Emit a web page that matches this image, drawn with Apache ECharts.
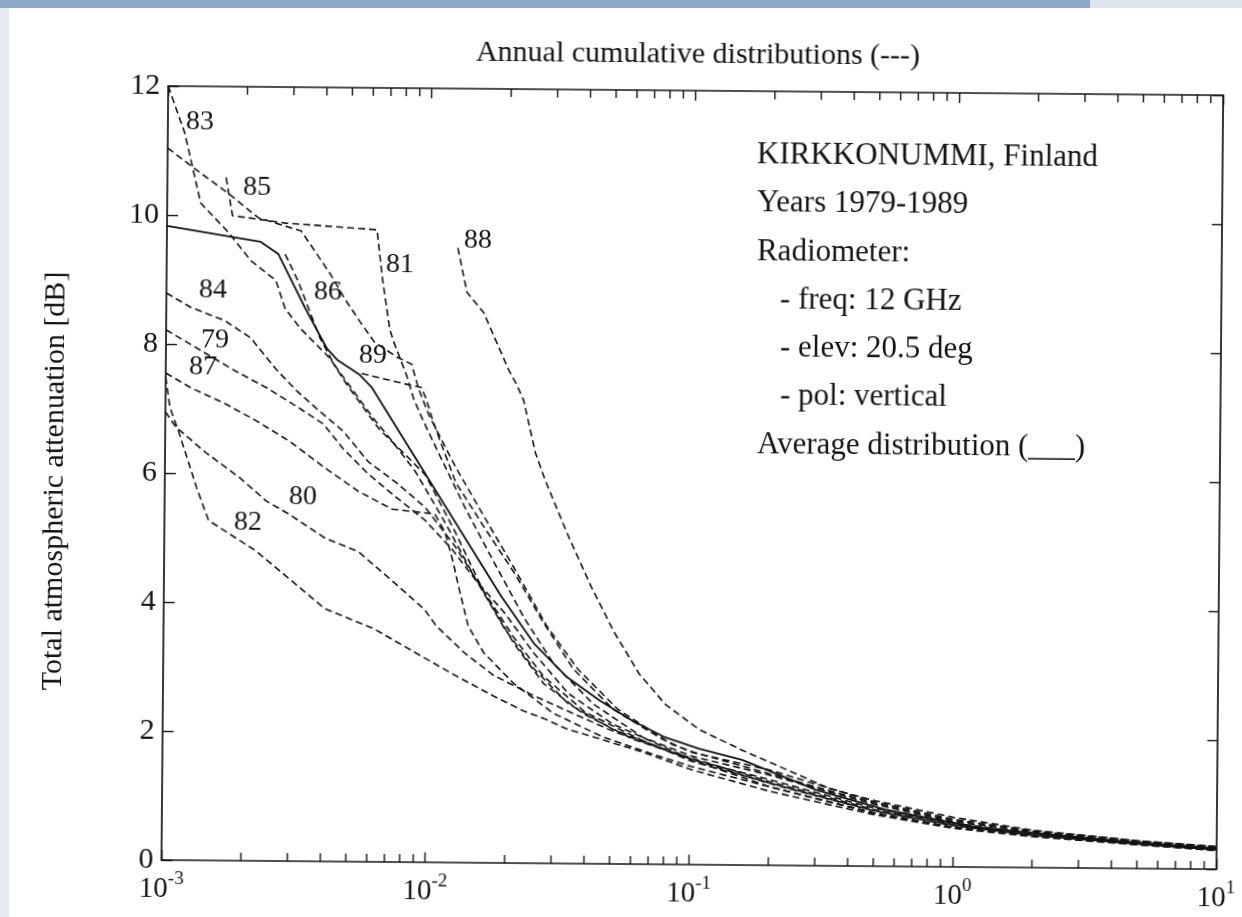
<!DOCTYPE html>
<html>
<head>
<meta charset="utf-8">
<script src="https://cdn.jsdelivr.net/npm/echarts@6/dist/echarts.min.js"></script>
<style>
html,body{margin:0;padding:0;background:#ffffff;overflow:hidden;}
#wrap{position:relative;width:1242px;height:917px;overflow:hidden;background:#ffffff;}
#chart{position:absolute;left:0;top:0;width:1242px;height:917px;transform:rotate(0.5deg);transform-origin:621px 458.5px;}
#bandTop{position:absolute;left:0;top:0;width:1090px;height:8px;background:#8fa8c7;z-index:5;}
#bandTopR{position:absolute;left:1090px;top:0;width:152px;height:8px;background:#dfe5ec;z-index:5;}
#bandLeft{position:absolute;left:0;top:8px;width:9px;height:909px;background:#e6ebf1;z-index:5;}
</style>
</head>
<body>
<div id="wrap">
<div id="chart"></div>
<div id="bandTop"></div><div id="bandTopR"></div><div id="bandLeft"></div>
</div>
<script>
// ---- data: [exceedance percentage, attenuation dB] ----
const avg = [[0.001,9.83],[0.00226,9.6],[0.00265,9.41],[0.00337,8.57],[0.00408,7.95],[0.00446,7.78],[0.00544,7.55],[0.00604,7.36],[0.0106,5.78],[0.019,4.14],[0.0254,3.41],[0.0338,2.9],[0.0454,2.53],[0.0605,2.22],[0.0805,1.97],[0.108,1.8],[0.158,1.63],[0.3,1.18],[0.55,0.88],[1.3,0.6],[1.9,0.55],[5,0.4],[10,0.32]];
const y79 = [[0.001,8.22],[0.00182,7.6],[0.00243,7.33],[0.00323,7.02],[0.00398,6.78],[0.00474,6.4],[0.00578,6.05],[0.00731,5.7],[0.00975,5.3],[0.0124,4.85],[0.0151,4.4],[0.0196,3.88],[0.0254,3.26],[0.0344,2.64],[0.0509,2.17],[0.0786,1.83],[0.102,1.63],[0.2,1.27],[0.5,0.86],[1,0.64],[2,0.5],[5,0.38],[10,0.3]];
const y80 = [[0.001,6.95],[0.0011,6.71],[0.00144,6.31],[0.00192,5.94],[0.00243,5.58],[0.00296,5.38],[0.00408,5.01],[0.00544,4.81],[0.00719,4.39],[0.00975,3.92],[0.0108,3.67],[0.0138,3.26],[0.0179,2.91],[0.0254,2.6],[0.0359,2.33],[0.0509,2.06],[0.0857,1.74],[0.102,1.62],[0.2,1.22],[0.5,0.82],[1,0.61],[2,0.49],[5,0.37],[10,0.29]];
const y81 = [[0.00167,10.59],[0.00177,10.0],[0.00282,9.89],[0.00626,9.8],[0.00659,9.04],[0.00705,8.26],[0.00731,8.06],[0.00819,7.55],[0.00874,7.18],[0.00945,6.87],[0.0111,6.28],[0.0138,5.5],[0.0179,4.65],[0.0233,3.8],[0.0302,3.1],[0.0428,2.48],[0.066,1.97],[0.102,1.68],[0.2,1.4],[0.5,0.96],[1,0.7],[2,0.55],[5,0.42],[10,0.33]];
const y82 = [[0.001,7.49],[0.00104,7.02],[0.00113,6.62],[0.00132,5.78],[0.00147,5.27],[0.00176,5.07],[0.00222,4.81],[0.00296,4.39],[0.00408,3.92],[0.00631,3.61],[0.00893,3.26],[0.0127,2.91],[0.0179,2.59],[0.0233,2.36],[0.0277,2.25],[0.0344,2.08],[0.0428,1.97],[0.066,1.74],[0.102,1.47],[0.2,1.15],[0.5,0.8],[1,0.6],[2,0.48],[5,0.37],[10,0.29]];
const y83 = [[0.001,12.0],[0.00116,11.27],[0.00134,10.19],[0.00171,9.74],[0.00209,9.3],[0.0026,9.0],[0.00282,8.57],[0.00323,8.26],[0.00419,7.8],[0.00486,7.4],[0.00578,6.98],[0.00648,6.71],[0.00819,6.31],[0.00975,6.0],[0.0127,5.12],[0.0164,4.19],[0.0213,3.41],[0.0277,2.79],[0.0392,2.33],[0.0605,1.94],[0.102,1.63],[0.2,1.33],[0.5,0.9],[1,0.68],[2,0.53],[5,0.4],[10,0.32]];
const y84 = [[0.001,8.79],[0.00124,8.57],[0.00167,8.37],[0.00209,8.11],[0.00265,7.6],[0.00315,7.29],[0.00374,7.02],[0.00474,6.67],[0.00591,6.2],[0.00751,5.89],[0.00975,5.5],[0.0127,4.9],[0.0164,4.2],[0.0213,3.5],[0.0277,2.9],[0.04,2.35],[0.065,1.93],[0.102,1.6],[0.2,1.28],[0.5,0.86],[1,0.65],[2,0.51],[5,0.39],[10,0.31]];
const y85 = [[0.001,11.04],[0.00126,10.73],[0.00171,10.34],[0.00222,9.97],[0.00323,9.77],[0.00419,9.1],[0.00474,8.73],[0.00544,8.37],[0.00617,8.06],[0.00751,7.83],[0.00855,7.72],[0.00913,7.33],[0.01,6.93],[0.0127,6.12],[0.0164,5.35],[0.0213,4.57],[0.0283,3.69],[0.0373,3.02],[0.0531,2.4],[0.0857,1.86],[0.102,1.75],[0.2,1.42],[0.5,0.98],[1,0.72],[2,0.56],[5,0.42],[10,0.34]];
const y86 = [[0.00281,9.41],[0.00315,9.0],[0.00384,8.11],[0.00434,7.71],[0.00517,7.29],[0.00617,6.87],[0.00731,6.51],[0.00893,6.05],[0.0116,5.27],[0.0151,4.42],[0.0196,3.64],[0.0254,3.02],[0.0344,2.48],[0.0509,2.09],[0.0857,1.74],[0.102,1.65],[0.2,1.3],[0.5,0.88],[1,0.66],[2,0.52],[5,0.39],[10,0.31]];
const y87 = [[0.001,7.55],[0.00124,7.33],[0.00167,7.09],[0.00222,6.82],[0.00296,6.51],[0.00408,6.09],[0.00544,5.74],[0.00731,5.47],[0.0106,5.4],[0.0116,5.12],[0.0125,4.65],[0.013,4.34],[0.0143,3.67],[0.0164,3.26],[0.0213,2.79],[0.0302,2.33],[0.0466,1.97],[0.072,1.71],[0.102,1.52],[0.2,1.22],[0.5,0.83],[1,0.62],[2,0.5],[5,0.38],[10,0.3]];
const y88 = [[0.0127,9.53],[0.0138,8.84],[0.0151,8.65],[0.016,8.53],[0.0175,8.17],[0.02,7.64],[0.0213,7.44],[0.0228,7.18],[0.0254,6.36],[0.0277,5.94],[0.0337,5.12],[0.0418,4.29],[0.0509,3.61],[0.0639,2.95],[0.0805,2.48],[0.108,2.1],[0.158,1.78],[0.238,1.47],[0.334,1.21],[0.487,1.03],[1,0.77],[2,0.58],[5,0.43],[10,0.35]];
const y89 = [[0.00553,7.57],[0.00837,7.4],[0.00933,7.36],[0.00975,7.18],[0.0103,6.87],[0.0111,6.51],[0.0127,5.89],[0.0164,5.19],[0.0213,4.5],[0.0277,3.72],[0.0359,3.02],[0.0509,2.4],[0.0786,1.94],[0.102,1.74],[0.2,1.48],[0.5,1.0],[1,0.74],[2,0.57],[5,0.43],[10,0.35]];

const yearNames = ['79','80','81','82','83','84','85','86','87','88','89'];
const yearSeries = [y79,y80,y81,y82,y83,y84,y85,y86,y87,y88,y89];

const xMinorTicks = [0.002,0.003,0.004,0.005,0.006,0.007,0.008,0.009,
                     0.02,0.03,0.04,0.05,0.06,0.07,0.08,0.09,
                     0.2,0.3,0.4,0.5,0.6,0.7,0.8,0.9,
                     2,3,4,5,6,7,8,9];

const titleText = 'Annual cumulative distributions (---)';
const yName = 'Total atmospheric attenuation [dB]';
const infoLines = ['KIRKKONUMMI, Finland','Years 1979-1989','Radiometer:','- freq: 12 GHz','- elev: 20.5 deg','- pol: vertical','Average distribution (___)'];
const infoIndent = [false,false,false,true,true,true,false];

// label placement (page pixels, as seen in the tilted scan)
const labelPos = {'83':[200,122],'85':[257,187],'81':[400,265],'88':[478,240],'86':[328,292],'84':[213,290],'79':[215,340],'87':[203,367],'89':[373,355],'80':[303,497],'82':[248,522]};

const FONT = '"Liberation Serif", "Times New Roman", serif';
const INK = '#141414';
const TILT = 0.5 * Math.PI / 180;
// convert a page position to the un-tilted chart canvas position
function untilt(X, Y){
  const cx = 621, cy = 458.5, c = Math.cos(TILT), s = Math.sin(TILT);
  const dx = X - cx, dy = Y - cy;
  return [cx + dx * c + dy * s, cy - dx * s + dy * c];
}

const chart = echarts.init(document.getElementById('chart'), null, {renderer:'canvas'});

const series = [];
yearSeries.forEach((d,i) => {
  series.push({
    name: '19' + yearNames[i], type:'line', data:d, symbol:'none', smooth:false,
    xAxisIndex:0, yAxisIndex:0,
    lineStyle:{color:'#151515', width:1.6, type:[7,4]},
    silent:true, animation:false, z:3
  });
});
series.push({
  name:'Average', type:'line', data:avg, symbol:'none',
  xAxisIndex:0, yAxisIndex:0,
  lineStyle:{color:'#111111', width:1.8, type:'solid'},
  silent:true, animation:false, z:4
});
series.push({
  name:'minorTicks', type:'custom', xAxisIndex:0, yAxisIndex:0,
  data: xMinorTicks.map(v => [v, 0]), silent:true, animation:false, clip:false, z:5,
  renderItem: function(params, api){
    const v = api.value(0);
    const b = api.coord([v, 0]);
    const t = api.coord([v, 12]);
    return {type:'group', children:[
      {type:'line', shape:{x1:b[0],y1:b[1],x2:b[0],y2:b[1]-8}, style:{stroke:INK,lineWidth:1.4}},
      {type:'line', shape:{x1:t[0],y1:t[1],x2:t[0],y2:t[1]+8}, style:{stroke:INK,lineWidth:1.4}}
    ]};
  }
});

const graphics = [];
const tp = untilt(698, 55);
graphics.push({type:'text', x:tp[0], y:tp[1], style:{text:titleText, font:'30px '+FONT, fill:INK, textAlign:'center', textVerticalAlign:'middle'}, silent:true});
const yp = untilt(55, 481);
graphics.push({type:'text', x:yp[0], y:yp[1], rotation:Math.PI/2, style:{text:yName, font:'30px '+FONT, fill:INK, textAlign:'center', textVerticalAlign:'middle'}, silent:true});
infoLines.forEach((s,i) => {
  const p = untilt(infoIndent[i] ? 780 : 757, 155 + i*48.3);
  graphics.push({type:'text', x:p[0], y:p[1],
    style:{text:s, font:'31px '+FONT, fill:INK, textAlign:'left', textVerticalAlign:'middle'}, silent:true});
});
yearNames.forEach(n => {
  const p = untilt(labelPos[n][0], labelPos[n][1]);
  graphics.push({type:'text', x:p[0], y:p[1], style:{text:n, font:'28px '+FONT, fill:INK, textAlign:'center', textVerticalAlign:'middle'}, silent:true});
});

const option = {
  backgroundColor:'transparent',
  animation:false,
  grid:{left:165, right:13, top:90, bottom:53, containLabel:false},
  xAxis:[
    {type:'log', logBase:10, min:0.001, max:10, position:'bottom',
     axisLine:{show:true, onZero:false, lineStyle:{color:INK, width:1.7}},
     axisTick:{show:true, inside:true, length:10, lineStyle:{color:INK, width:1.4}},
     splitLine:{show:false}, minorTick:{show:false},
     axisLabel:{show:true, margin:10, showMinLabel:true, showMaxLabel:true,
       formatter: function(v){ const e = Math.round(Math.log10(v)); return '{b|10}{s|' + e + '}'; },
       rich:{ b:{fontFamily:FONT, fontSize:29, color:INK, lineHeight:34, verticalAlign:'bottom'},
              s:{fontFamily:FONT, fontSize:19, color:INK, lineHeight:22, verticalAlign:'top'} }}
    },
    {type:'log', logBase:10, min:0.001, max:10, position:'top',
     axisLine:{show:true, onZero:false, lineStyle:{color:INK, width:1.7}},
     axisTick:{show:true, inside:true, length:10, lineStyle:{color:INK, width:1.4}},
     axisLabel:{show:false}, splitLine:{show:false}}
  ],
  yAxis:[
    {type:'value', min:0, max:12, interval:2, position:'left',
     axisLine:{show:true, onZero:false, lineStyle:{color:INK, width:1.7}},
     axisTick:{show:true, inside:true, length:11, lineStyle:{color:INK, width:1.4}},
     splitLine:{show:false},
     axisLabel:{show:true, margin:8, fontFamily:FONT, fontSize:30, color:INK}},
    {type:'value', min:0, max:12, interval:2, position:'right',
     axisLine:{show:true, onZero:false, lineStyle:{color:INK, width:1.7}},
     axisTick:{show:true, inside:true, length:10, lineStyle:{color:INK, width:1.4}},
     splitLine:{show:false}, axisLabel:{show:false}}
  ],
  series: series,
  graphic: graphics
};
chart.setOption(option);
</script>
</body>
</html>
